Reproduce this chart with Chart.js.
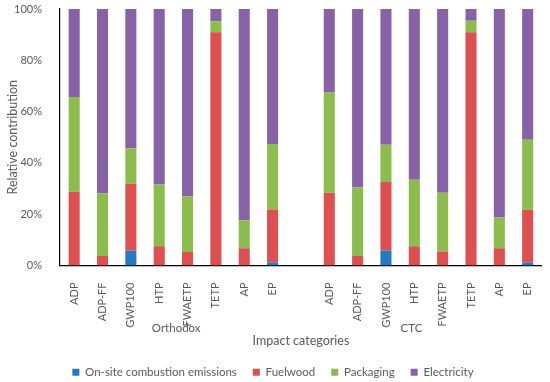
<!DOCTYPE html>
<html>
<head>
<meta charset="utf-8">
<script src="https://cdn.jsdelivr.net/npm/chart.js@4"></script>
<style>
  html, body { margin: 0; padding: 0; background: #fff; }
  #wrap { width: 550px; height: 382px; }
</style>
</head>
<body>
<div id="wrap"><canvas id="barChart"></canvas></div>
<script>
// categories (empty slot between the two groups)
const categories = ['ADP', 'ADP-FF', 'GWP100', 'HTP', 'FWAETP', 'TETP', 'AP', 'EP', '',
                    'ADP', 'ADP-FF', 'GWP100', 'HTP', 'FWAETP', 'TETP', 'AP', 'EP'];
const groups = ['Orthodox', 'CTC'];

// relative contribution, %
const onsite      = [0, 0, 5.8, 0, 0, 0, 0, 1.2, null, 0, 0, 5.8, 0, 0, 0, 0, 1.2];
const fuelwood    = [28.8, 3.7, 26.1, 7.5, 5.3, 90.9, 6.7, 20.6, null, 28.4, 3.7, 26.8, 7.5, 5.5, 90.9, 6.7, 20.5];
const packaging   = [36.9, 24.5, 13.8, 24.1, 21.6, 4.3, 10.9, 25.6, null, 39.0, 26.7, 14.5, 25.9, 22.9, 4.5, 12.0, 27.3];
const electricity = [34.3, 71.8, 54.3, 68.4, 73.1, 4.8, 82.4, 52.6, null, 32.6, 69.6, 52.9, 66.6, 71.6, 4.6, 81.3, 51.0];

const yTicks = [0, 20, 40, 60, 80, 100];

const txt = '#595959';
const fontFam = 'Lato, "Open Sans", sans-serif';

// draws Orthodox / CTC under the rotated tick labels
const groupLabels = {
    id: 'groupLabels',
    afterDraw(chart) {
        const x = chart.scales.x;
        const c = chart.ctx;
        c.save();
        c.font = '11.5px ' + fontFam;
        c.fillStyle = txt;
        c.textAlign = 'center';
        c.textBaseline = 'middle';
        c.fillText(groups[0], x.getPixelForValue(3.6), x.top + 63);
        c.fillText(groups[1], x.getPixelForValue(11.9), x.top + 63);
        c.restore();
    }
};

const ctx = document.getElementById('barChart').getContext('2d');
const myChart = new Chart(ctx, {
    type: 'bar',
    data: {
        labels: categories,
        datasets: [
            { label: 'On-site combustion emissions', data: onsite, backgroundColor: '#2479C2' },
            { label: 'Fuelwood', data: fuelwood, backgroundColor: '#DE4F4F' },
            { label: 'Packaging', data: packaging, backgroundColor: '#8BBC4C' },
            { label: 'Electricity', data: electricity, backgroundColor: '#8862A6' }
        ]
    },
    options: {
        responsive: true,
        maintainAspectRatio: false,
        animation: false,
        layout: { padding: { top: 9, right: 4, left: 0, bottom: -6 } },
        datasets: { bar: { barPercentage: 0.39, categoryPercentage: 1 } },
        plugins: {
            tooltip: { enabled: false },
            legend: {
                position: 'bottom',
                labels: {
                    boxWidth: 7,
                    boxHeight: 7,
                    padding: 16,
                    color: txt,
                    font: { family: fontFam, size: 11.5 }
                }
            }
        },
        scales: {
            x: {
                stacked: true,
                grid: { display: false },
                border: { display: true, color: '#000', width: 1.2 },
                ticks: {
                    autoSkip: false,
                    maxRotation: 90,
                    minRotation: 90,
                    padding: 9,
                    color: txt,
                    font: { family: fontFam, size: 11 }
                },
                title: {
                    display: true,
                    text: 'Impact categories',
                    color: txt,
                    padding: { top: 20, bottom: 2 },
                    font: { family: fontFam, size: 12.5 }
                },
                afterFit(scale) { scale.height = 85; }
            },
            y: {
                stacked: true,
                min: 0,
                max: 100,
                grid: { display: false },
                border: { display: true, color: '#000', width: 1.2 },
                afterBuildTicks(scale) { scale.ticks = yTicks.map(v => ({ value: v })); },
                ticks: {
                    padding: 10,
                    color: txt,
                    font: { family: fontFam, size: 11 },
                    callback: v => v + '%'
                },
                title: {
                    display: true,
                    text: 'Relative contribution',
                    color: txt,
                    padding: { top: 5, bottom: 0 },
                    font: { family: fontFam, size: 12.5 }
                },
                afterFit(scale) {
                    scale.width = 60;
                    scale.paddingTop = 0;
                    scale.paddingBottom = 0;
                }
            }
        }
    },
    plugins: [groupLabels]
});
</script>
</body>
</html>
